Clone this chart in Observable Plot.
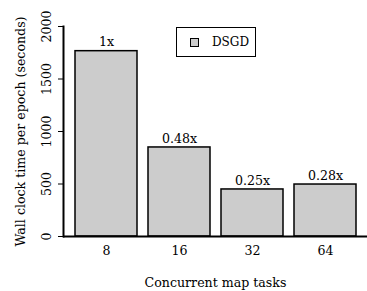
<!DOCTYPE html>
<html>
<head>
<meta charset="utf-8">
<script src="https://cdn.jsdelivr.net/npm/d3@7"></script>
<script src="https://cdn.jsdelivr.net/npm/@observablehq/plot@0.6"></script>
<style>
  html, body { margin: 0; padding: 0; background: #fff; }
  #wrap { position: relative; width: 367px; height: 291px; font-family: "DejaVu Serif", serif; }
  #wrap svg, #wrap svg text { font-family: "DejaVu Serif", serif; }
  #legend { position: absolute; left: 176px; top: 27px; width: 78px; height: 28px; border: 1.5px solid #000; box-sizing: content-box; background: #fff; font-size: 12px; display: flex; align-items: center; }
  #legend .sw { width: 7px; height: 7px; background: #cccccc; border: 1.5px solid #000; margin-left: 13px; margin-right: 13px; }
</style>
</head>
<body>
<div id="wrap"></div>
<script>
const tasks = ["8", "16", "32", "64"];
const seconds = [1765, 848, 448, 495];
const speedLabels = ["1x", "0.48x", "0.25x", "0.28x"];
const yTicks = [0, 500, 1000, 1500, 2000];
const seriesName = "DSGD";

const data = tasks.map((t, i) => ({task: t, sec: seconds[i], lab: speedLabels[i]}));

const chart = Plot.plot({
  width: 367,
  height: 291,
  marginLeft: 63,
  marginRight: 0,
  marginTop: 26,
  marginBottom: 55,
  style: {fontFamily: "'DejaVu Serif', serif", fontSize: "12.6px", color: "#000", background: "#fff"},
  x: {domain: tasks, padding: 0.156, label: "Concurrent map tasks"},
  y: {domain: [0, 2000], label: "Wall clock time per epoch (seconds)"},
  marks: [
    Plot.barY(data, {x: "task", y: "sec", fill: "#cccccc", stroke: "#000", strokeWidth: 1.5}),
    Plot.text(data, {x: "task", y: "sec", text: "lab", textAnchor: "middle", dy: -9, fontSize: 12.6}),
    Plot.axisY({ticks: yTicks, tickFormat: d => String(d), tickSize: 5, tickPadding: 8, tickRotate: -90, fontSize: 12.6, label: "Wall clock time per epoch (seconds)", labelAnchor: "center", labelOffset: 47, labelArrow: "none"}),
    Plot.axisX({tickSize: 0, tickPadding: 10, fontSize: 12.6, label: "Concurrent map tasks", labelAnchor: "center", labelOffset: 50, labelArrow: "none"}),
    Plot.ruleY([0], {strokeWidth: 2}),
    Plot.frame({anchor: "left", strokeWidth: 2})
  ]
});
document.getElementById("wrap").appendChild(chart);
const lg = document.createElement("div");
lg.id = "legend";
lg.innerHTML = '<div class="sw"></div><span>' + seriesName + '</span>';
document.getElementById("wrap").appendChild(lg);
</script>
</body>
</html>
